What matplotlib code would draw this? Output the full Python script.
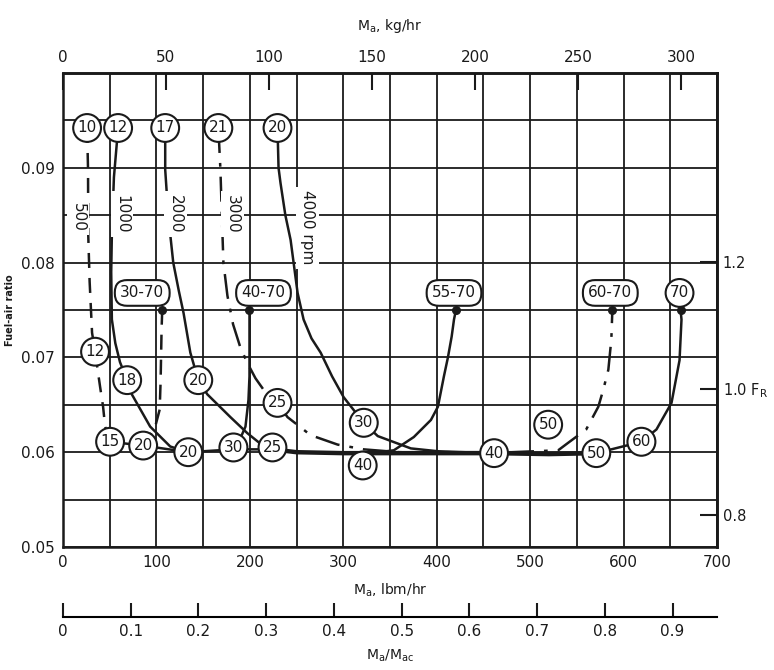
import numpy as np
import matplotlib.pyplot as plt

# air flow M_a (lbm/hr) and fuel-air ratio
rpm500_x = [25.8, 26.8, 27.0, 28.5, 31.1, 34.3, 39.7, 42.9, 45.1, 50.4]
rpm500_y = [0.0942, 0.0898, 0.0830, 0.0780, 0.0726, 0.0706, 0.0669, 0.0648, 0.0627, 0.0611]

rpm500_wot_x = [85.8, 93.3, 98.7, 103.5, 104.5, 105.5, 106.2]
rpm500_wot_y = [0.0607, 0.0618, 0.0627, 0.0645, 0.0676, 0.0729, 0.0750]

rpm1000_x = [59.0, 54.5, 52.3, 51.6, 52.3, 56.0, 61.0, 68.7, 73.7, 93.3, 114.8, 134.1]
rpm1000_y = [0.0942, 0.0890, 0.0830, 0.0790, 0.0740, 0.0715, 0.0695, 0.0676, 0.0661, 0.0627, 0.0606, 0.0600]

rpm2000_x = [109.4, 109.4, 112.7, 118.0, 124.0, 129.0, 136.3, 144.8, 154.5, 179.2, 197.4, 210.0, 224.2]
rpm2000_y = [0.0942, 0.0898, 0.0849, 0.0800, 0.0770, 0.0747, 0.0705, 0.0676, 0.0661, 0.0637, 0.0620, 0.0610, 0.0605]

wot_4070_x = [199.6, 199.6, 198.5, 195.3, 190.0, 182.4]
wot_4070_y = [0.0750, 0.0680, 0.0655, 0.0627, 0.0615, 0.0605]

rpm3000_x = [166.3, 168.5, 170.0, 171.7, 176.0, 182.0, 190.0, 197.4, 206.0, 214.6, 229.6,
             240.3, 265.0, 294.0, 321.9, 360.0, 420.0, 480.0, 530.0, 540.8, 560.0,
             573.0, 578.3, 583.7, 586.9, 588.0]
rpm3000_y = [0.0942, 0.0898, 0.0850, 0.0800, 0.0765, 0.0735, 0.0710, 0.0694, 0.0678, 0.0666, 0.0652,
             0.0637, 0.0618, 0.0608, 0.0603, 0.0600, 0.0600, 0.0600, 0.0602, 0.0610, 0.0624,
             0.0648, 0.0666, 0.0687, 0.0719, 0.0750]

rpm4000_x = [229.6, 230.7, 232.8, 238.0, 243.6, 251.1, 257.5, 266.0, 275.8, 288.0, 300.4, 321.9,
             336.9, 372.3, 401.3, 429.2, 461.4]
rpm4000_y = [0.0942, 0.0900, 0.0884, 0.0850, 0.0824, 0.0768, 0.0740, 0.0720, 0.0705, 0.0680, 0.0658, 0.0631,
             0.0617, 0.0604, 0.0601, 0.0600, 0.0599]

rpm4000_wot_x = [619.1, 635.2, 651.3, 659.9, 662.0, 661.0]
rpm4000_wot_y = [0.0611, 0.0624, 0.0652, 0.0697, 0.0740, 0.0750]

wot_5570_x = [330.0, 354.1, 375.5, 393.8, 401.3, 407.7, 412.0, 416.0, 418.5, 420.6]
wot_5570_y = [0.0599, 0.0602, 0.0616, 0.0634, 0.0648, 0.0680, 0.0700, 0.0722, 0.0740, 0.0750]

envelope_x = [50.4, 85.8, 134.1, 182.4, 224.2]
envelope_y = [0.0611, 0.0607, 0.0600, 0.0603, 0.0603]
envelope_thick_x = [224.2, 250.0, 300.0, 350.0, 400.0, 461.4, 520.0, 570.8]
envelope_thick_y = [0.0603, 0.0600, 0.0599, 0.0599, 0.0599, 0.0599, 0.0598, 0.0599]
envelope_end_x = [570.8, 619.1]
envelope_end_y = [0.0599, 0.0611]

# circled labels (manifold pressure)
circle_text = ["10", "12", "17", "21", "20", "12", "18", "20", "25", "30", "50",
               "15", "20", "20", "30", "25", "40", "40", "50", "60", "70"]
circle_x = [25.8, 59.0, 109.4, 166.3, 229.6, 34.3, 68.7, 144.8, 229.6, 321.9, 519.3,
            50.4, 85.8, 134.1, 182.4, 224.2, 320.8, 461.4, 570.8, 619.1, 659.9]
circle_y = [0.0942, 0.0942, 0.0942, 0.0942, 0.0942, 0.0706, 0.0676, 0.0676, 0.0652, 0.0631, 0.0629,
            0.0611, 0.0607, 0.0600, 0.0605, 0.0605, 0.0586, 0.0599, 0.0599, 0.0611, 0.0768]

pill_text = ["30-70", "40-70", "55-70", "60-70"]
pill_x = [84.8, 214.6, 418.5, 585.8]
pill_y = [0.0768, 0.0768, 0.0768, 0.0768]

dot_x = [106.2, 199.6, 420.6, 588.0, 661.0]
dot_y = [0.0750, 0.0750, 0.0750, 0.0750, 0.0750]

rpm_text = ["500", "1000", "2000", "3000", "4000 rpm"]
rpm_x = [16.1, 63.3, 120.2, 181.3, 261.8]
rpm_y = [0.0848, 0.0851, 0.0851, 0.0851, 0.0837]

KG_PER_LB = 0.4536
MA_C = 725.0
FA_STOICH = 0.0667

ink = "#1a1a1a"
fig = plt.figure(figsize=(7.74, 6.70), dpi=100)
ax = fig.add_axes([63 / 774, 1 - 547 / 670, 654 / 774, 474 / 670])

ax.set_xlim(0, 700)
ax.set_ylim(0.05, 0.10)
ax.set_xticks(np.arange(0, 701, 100))
ax.set_xticks(np.arange(50, 700, 100), minor=True)
ax.set_yticks([0.05, 0.06, 0.07, 0.08, 0.09])
ax.set_yticklabels(["0.05", "0.06", "0.07", "0.08", "0.09"])
ax.set_yticks(np.arange(0.055, 0.1, 0.01), minor=True)
ax.grid(True, which="both", color=ink, lw=1.3)
ax.set_axisbelow(True)
ax.tick_params(which="both", length=0, labelsize=11, colors=ink, pad=6)
for sp in ax.spines.values():
    sp.set_linewidth(1.8)
    sp.set_color(ink)

ax.set_xlabel(r"M$_\mathrm{a}$, lbm/hr", fontsize=10, color=ink, labelpad=8)
ax.set_ylabel("Fuel-air ratio", fontsize=7, fontweight="bold", color=ink, labelpad=4)

# curves
lw = 1.8
ax.plot(rpm500_x, rpm500_y, color=ink, lw=lw, ls=(0, (6, 4)), zorder=3)
ax.plot(rpm500_wot_x, rpm500_wot_y, color=ink, lw=lw, ls=(0, (6, 4)), zorder=3)
ax.plot(rpm1000_x, rpm1000_y, color=ink, lw=lw, zorder=3)
ax.plot(rpm2000_x, rpm2000_y, color=ink, lw=lw, zorder=3)
ax.plot(wot_4070_x, wot_4070_y, color=ink, lw=lw, zorder=3)
ax.plot(rpm3000_x, rpm3000_y, color=ink, lw=lw, ls=(0, (10, 4, 1.5, 4)), zorder=3)
ax.plot(rpm4000_x, rpm4000_y, color=ink, lw=lw, zorder=3)
ax.plot(rpm4000_wot_x, rpm4000_wot_y, color=ink, lw=lw, zorder=3)
ax.plot(wot_5570_x, wot_5570_y, color=ink, lw=lw, zorder=3)
ax.plot(envelope_x, envelope_y, color=ink, lw=lw, zorder=3)
ax.plot(envelope_thick_x, envelope_thick_y, color=ink, lw=3.2, zorder=3)
ax.plot(envelope_end_x, envelope_end_y, color=ink, lw=lw, zorder=3)
ax.scatter(dot_x, dot_y, s=30, color=ink, zorder=4)

for t, x, y in zip(circle_text, circle_x, circle_y):
    ax.text(x, y, t, fontsize=11, color=ink, ha="center", va="center", zorder=5,
            bbox=dict(boxstyle="circle,pad=0.28", fc="white", ec=ink, lw=1.5))
for t, x, y in zip(pill_text, pill_x, pill_y):
    ax.text(x, y, t, fontsize=11, color=ink, ha="center", va="center", zorder=5,
            bbox=dict(boxstyle="round,pad=0.35,rounding_size=0.8", fc="white", ec=ink, lw=1.5))
for t, x, y in zip(rpm_text, rpm_x, rpm_y):
    ax.text(x, y, t, fontsize=11, color=ink, ha="center", va="center", rotation=-90, zorder=5,
            bbox=dict(boxstyle="square,pad=0.25", fc="white", ec="none"))

# top scale in kg/hr
top = ax.secondary_xaxis("top", functions=(lambda x: x * KG_PER_LB, lambda k: k / KG_PER_LB))
top.set_xticks(np.arange(0, 301, 50))
top.tick_params(direction="in", length=12, width=1.5, labelsize=11, colors=ink, pad=6)
top.spines["top"].set_linewidth(1.8)
top.set_xlabel(r"M$_\mathrm{a}$, kg/hr", fontsize=10, color=ink, labelpad=14)

# right scale, relative fuel-air ratio
right = ax.secondary_yaxis("right", functions=(lambda y: y / FA_STOICH, lambda f: f * FA_STOICH))
right.set_yticks([0.8, 1.0, 1.2])
right.set_yticklabels(["0.8", r"1.0 F$_\mathrm{R}$", "1.2"])
right.tick_params(direction="in", length=12, width=1.5, labelsize=10.5, colors=ink, pad=4)
right.spines["right"].set_linewidth(1.8)

# lower scale, fraction of choked air flow
low = ax.secondary_xaxis(-0.148, functions=(lambda x: x / MA_C, lambda r: r * MA_C))
low.set_xticks(np.round(np.arange(0, 0.91, 0.1), 1))
low.set_xticklabels(["0", "0.1", "0.2", "0.3", "0.4", "0.5", "0.6", "0.7", "0.8", "0.9"])
low.tick_params(direction="in", length=10, width=1.5, labelsize=11, colors=ink, pad=5)
low.spines["bottom"].set_linewidth(1.5)
low.set_xlabel(r"M$_\mathrm{a}$/M$_\mathrm{ac}$", fontsize=10, color=ink, labelpad=6)

fig.savefig("out.png", dpi=100)
